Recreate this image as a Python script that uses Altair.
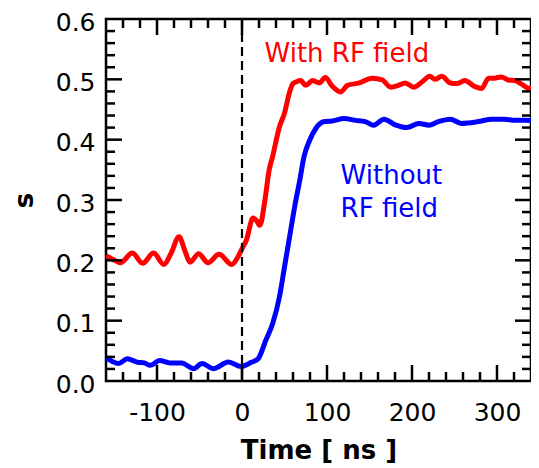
import altair as alt
import pandas as pd

# ---- data ----
t_red = [-160, -150, -143, -129, -117, -104, -92, -84, -74, -67, -61, -51, -40, -27, -12, -5,
         1, 5, 13, 17, 21, 27, 32, 36, 44, 50, 56, 60, 64, 69, 75, 83, 91, 98, 106, 116, 124,
         138, 153, 165, 175, 184, 192, 202, 212, 221, 227, 235, 245, 253, 262, 274, 282, 290,
         297, 305, 313, 321, 329, 338, 346]
s_red = [0.208, 0.200, 0.196, 0.212, 0.195, 0.212, 0.193, 0.210, 0.239, 0.215, 0.197, 0.211,
         0.196, 0.210, 0.193, 0.205, 0.222, 0.233, 0.270, 0.266, 0.258, 0.300, 0.350, 0.372,
         0.421, 0.444, 0.479, 0.493, 0.496, 0.498, 0.490, 0.498, 0.494, 0.503, 0.489, 0.479,
         0.490, 0.494, 0.502, 0.499, 0.487, 0.490, 0.494, 0.487, 0.496, 0.505, 0.500, 0.505,
         0.494, 0.493, 0.498, 0.488, 0.485, 0.502, 0.502, 0.504, 0.499, 0.498, 0.492, 0.485,
         0.490]

t_blue = [-160, -152, -145, -135, -123, -115, -108, -97, -85, -71, -57, -47, -34, -16, -1,
          11, 19, 28, 36, 44, 50, 56, 62, 68, 73, 79, 87, 97, 106, 120, 134, 145, 155, 167,
          181, 194, 208, 220, 231, 245, 258, 278, 294, 309, 321, 333, 346]
s_blue = [0.039, 0.032, 0.029, 0.037, 0.031, 0.030, 0.026, 0.034, 0.030, 0.030, 0.0205,
          0.029, 0.0205, 0.0315, 0.024, 0.031, 0.037, 0.0675, 0.095, 0.139, 0.189, 0.239,
          0.289, 0.333, 0.372, 0.397, 0.419, 0.430, 0.431, 0.435, 0.432, 0.430, 0.424, 0.434,
          0.424, 0.420, 0.427, 0.424, 0.430, 0.434, 0.427, 0.430, 0.434, 0.434, 0.432, 0.432,
          0.431]

series_names = ["With RF field", "Without RF field"]
series_colors = ["#ff0000", "#0000ff"]

x_major = [-100, 0, 100, 200, 300]
x_minor = [-140, -120, -80, -60, -40, -20, 20, 40, 60, 80, 120, 140, 160, 180,
           220, 240, 260, 280, 320]
y_labels = [0.0, 0.1, 0.2, 0.3, 0.4, 0.5, 0.6]
y_major = [0.1, 0.2, 0.3, 0.4, 0.5]
y_minor = [0.02, 0.04, 0.06, 0.08, 0.12, 0.14, 0.16, 0.18, 0.22, 0.24, 0.26, 0.28,
           0.32, 0.34, 0.36, 0.38, 0.42, 0.44, 0.46, 0.48, 0.52, 0.54, 0.56, 0.58]

ann_text = ["With RF field", "Without", "RF field"]
ann_t = [26.5, 116, 116]
ann_s = [0.529, 0.327, 0.272]
ann_color = ["#ff0000", "#0000ff", "#0000ff"]

x_domain = [-160, 340]
y_domain = [0.0, 0.6]

W, H = 425, 362
FONT = "DejaVu Sans"
MAJ, MIN = 16, 9

# ---- build tables ----
lines_df = pd.DataFrame({
    "t": t_red + t_blue,
    "s": s_red + s_blue,
    "series": [series_names[0]] * len(t_red) + [series_names[1]] * len(t_blue),
})
ann_df = pd.DataFrame({"label": ann_text, "t": ann_t, "s": ann_s, "c": ann_color})

xs = alt.Scale(domain=x_domain, nice=False, zero=False)
ys = alt.Scale(domain=y_domain, nice=False, zero=False)

X_AX = alt.Axis(values=x_major, ticks=False, domain=False, grid=False,
                labelExpr="'' + datum.value",
                labelFont=FONT, labelFontSize=25, labelColor="black",
                labelPadding=19, titleFont=FONT, titleFontSize=26,
                titleFontWeight="bold", titleColor="black", titlePadding=12)
Y_AX = alt.Axis(values=y_labels, format=".1f", ticks=False, domain=False, grid=False,
                labelFont=FONT, labelFontSize=25, labelColor="black",
                labelPadding=11, labelOffset=3, titleFont=FONT, titleFontSize=26,
                titleFontWeight="bold", titleColor="black", titlePadding=18)
X_TITLE = "Time [ ns ]"
Y_TITLE = "s"


def X(field="t"):
    return alt.X(f"{field}:Q", scale=xs, axis=X_AX, title=X_TITLE)


def Y(field="s"):
    return alt.Y(f"{field}:Q", scale=ys, axis=Y_AX, title=Y_TITLE)


lines = alt.Chart(lines_df).mark_line(strokeWidth=5, interpolate="monotone", clip=True).encode(
    x=X(), y=Y(),
    color=alt.Color("series:N", scale=alt.Scale(domain=series_names, range=series_colors),
                    legend=None),
    detail="series:N",
)

dash = alt.Chart(pd.DataFrame({"t": [0]})).mark_rule(
    color="black", strokeWidth=2.2, strokeDash=[9, 5]).encode(x=X())


def xticks(vals, length, bottom):
    y0 = H if bottom else 0
    y1 = H - length if bottom else length
    return alt.Chart(pd.DataFrame({"t": vals})).mark_rule(
        color="black", strokeWidth=2.5).encode(
        x=X(), y=alt.value(y0), y2=alt.value(y1))


def yticks(vals, length, left):
    x0 = 0 if left else W
    x1 = length if left else W - length
    return alt.Chart(pd.DataFrame({"s": vals})).mark_rule(
        color="black", strokeWidth=2.5).encode(
        y=Y(), x=alt.value(x0), x2=alt.value(x1))


ticks = [xticks(x_major, MAJ, True), xticks(x_minor, MIN, True),
         xticks(x_major, MAJ, False), xticks(x_minor, MIN, False),
         yticks(y_major, MAJ, True), yticks(y_minor, MIN, True),
         yticks(y_major, MAJ, False), yticks(y_minor, MIN, False)]

ann = alt.Chart(ann_df).mark_text(align="left", baseline="alphabetic",
                                  font=FONT, fontSize=26).encode(
    x=X(), y=Y(),
    text="label:N",
    color=alt.Color("c:N", scale=None),
)

chart = alt.layer(lines, dash, *ticks, ann).properties(
    width=W, height=H,
    autosize=alt.AutoSizeParams(type="none"),
    padding={"left": 98, "top": 11, "right": 0, "bottom": 85},
    background="white",
).configure_view(stroke="black", strokeWidth=2.5)

chart.save("out.html", embed_options={"renderer": "svg", "actions": False})
